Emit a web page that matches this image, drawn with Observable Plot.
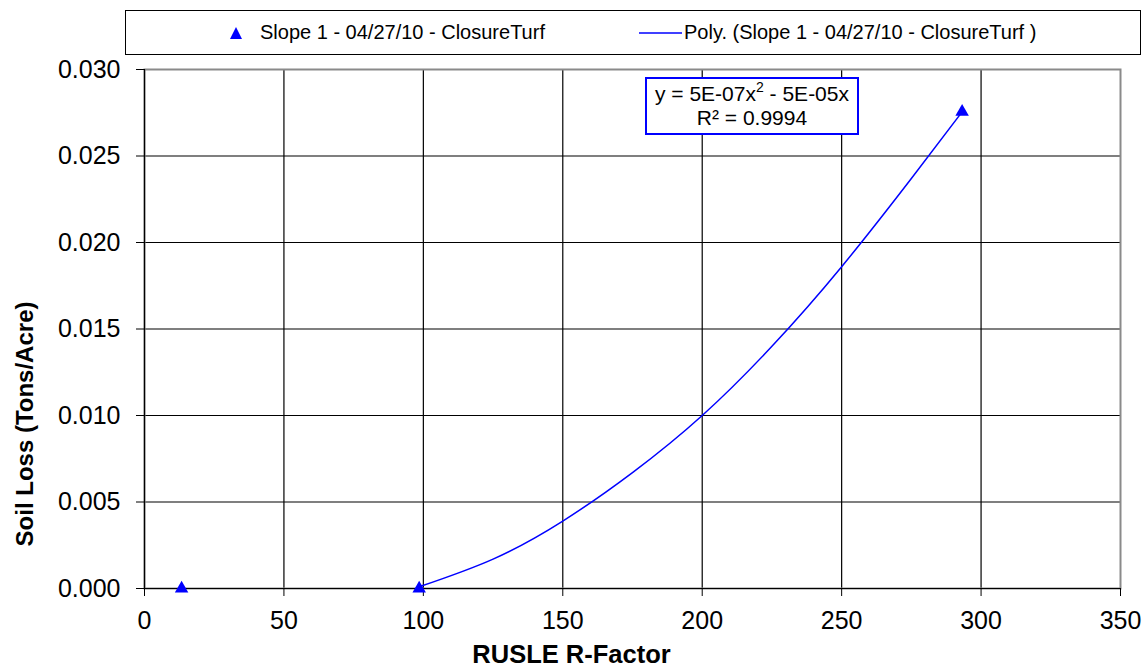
<!DOCTYPE html>
<html>
<head>
<meta charset="utf-8">
<script src="https://cdn.jsdelivr.net/npm/d3@7"></script>
<script src="https://cdn.jsdelivr.net/npm/@observablehq/plot@0.6"></script>
<style>
  html, body { margin: 0; padding: 0; background: #fff; }
  #wrap { position: relative; width: 1144px; height: 668px; font-family: "Liberation Sans", Arial, sans-serif; }
  #legend { position: absolute; left: 125px; top: 10px; width: 1014px; height: 43px; border: 1.5px solid #000; background: #fff; box-sizing: content-box; }
  #legend .item { position: absolute; top: 0; height: 43px; line-height: 43px; font-size: 20px; color: #000; white-space: nowrap; }
  #eq { position: absolute; left: 645px; top: 77px; width: 210px; height: 51px; border: 2px solid #0000ff; background: #fff; text-align: center; font-size: 21px; line-height: 24px; color: #000; padding-top: 3px; box-sizing: content-box; }
  #eq sup { font-size: 14px; line-height: 0; position: relative; top: -1px; }
</style>
</head>
<body>
<div id="wrap">
  <div id="chart"></div>
  <div id="legend">
    <div class="item" style="left:100px;"><svg width="20" height="43" style="vertical-align:top"><path d="M10,16 L16,28 L4,28 Z" fill="#0000ff"/></svg></div>
    <div class="item" style="left:134px;">Slope 1 - 04/27/10 - ClosureTurf</div>
    <div class="item" style="left:512px;"><svg width="46" height="43" style="vertical-align:top"><line x1="1" x2="44" y1="22" y2="22" stroke="#0000ff" stroke-width="1.5"/></svg></div>
    <div class="item" style="left:558px;">Poly. (Slope 1 - 04/27/10 - ClosureTurf )</div>
  </div>
  <div id="eq">y = 5E-07x<sup>2</sup> - 5E-05x<br>R² = 0.9994</div>
</div>
<script>
// Observed points
const rFactor = [13.3, 98.5, 293.2];
const soilLoss = [0.0, 0.0, 0.02755];

// Polynomial trendline
const trendX = [98.5, 125, 150, 175, 200, 225, 250, 275, 293.2];
const trendY = [0.0001, 0.0017, 0.0039, 0.0067, 0.0100, 0.0140, 0.0186, 0.0237, 0.02755];

const xTicks = [0, 50, 100, 150, 200, 250, 300, 350];
const yTicks = [0, 0.005, 0.010, 0.015, 0.020, 0.025, 0.030];

const xTitle = "RUSLE R-Factor";
const yTitle = "Soil Loss (Tons/Acre)";

const points = rFactor.map((x, i) => ({x, y: soilLoss[i]}));
const trend = trendX.map((x, i) => ({x, y: trendY[i]}));

const chart = Plot.plot({
  width: 1144,
  height: 668,
  marginLeft: 144,
  marginRight: 24,
  marginTop: 69,
  marginBottom: 80,
  style: {fontFamily: "'Liberation Sans', Arial, sans-serif", background: "#fff", color: "#000"},
  x: {domain: [0, 350]},
  y: {domain: [0, 0.030]},
  marks: [
    Plot.gridX(xTicks.slice(1, -1), {stroke: "#000", strokeOpacity: 1, strokeWidth: 1.2}),
    Plot.gridY(yTicks.slice(1, -1), {stroke: "#000", strokeOpacity: 1, strokeWidth: 1.2}),
    Plot.frame({stroke: "#8a8a8a", strokeWidth: 2}),
    Plot.ruleX([0], {stroke: "#000", strokeWidth: 1.2}),
    Plot.ruleY([0], {stroke: "#000", strokeWidth: 1.2}),
    Plot.axisX(xTicks, {tickSize: 8, tickPadding: 15, fontSize: 25, label: null, stroke: "#000", color: "#000"}),
    Plot.axisY(yTicks, {tickSize: 8, tickPadding: 16, fontSize: 25, label: null, tickFormat: d3.format(".3f"), stroke: "#000", color: "#000"}),
    Plot.text([xTitle], {frameAnchor: "bottom", textAnchor: "middle", lineAnchor: "middle", dx: -61, dy: 66, fontSize: 25.5, fontWeight: "bold", fill: "#000"}),
    Plot.text([yTitle], {frameAnchor: "left", textAnchor: "middle", lineAnchor: "middle", dx: -119, dy: 95, rotate: -90, fontSize: 24, fontWeight: "bold", fill: "#000"}),
    Plot.line(trend, {x: "x", y: "y", stroke: "#0000ff", strokeWidth: 1.5, curve: "natural"}),
    Plot.dot(points, {x: "x", y: "y", symbol: "triangle", r: 5, fill: "#0000ff", stroke: "none"})
  ]
});
document.getElementById("chart").appendChild(chart);
</script>
</body>
</html>
